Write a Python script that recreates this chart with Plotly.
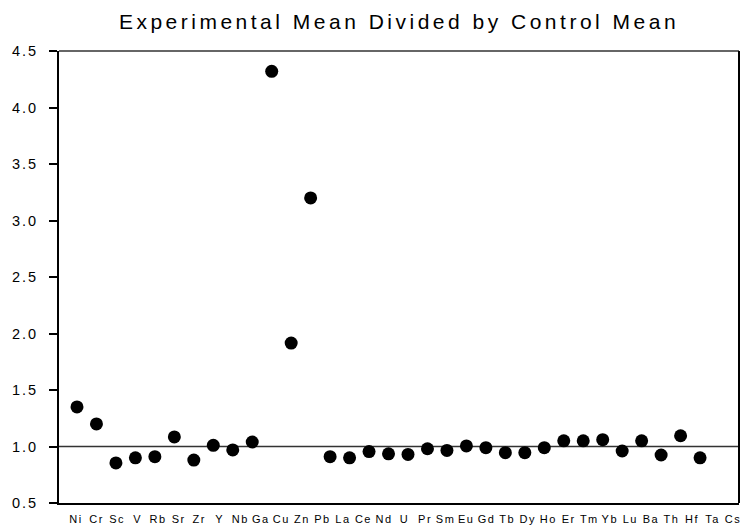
import plotly.graph_objects as go

elements = ["Ni", "Cr", "Sc", "V", "Rb", "Sr", "Zr", "Y", "Nb", "Ga", "Cu", "Zn", "Pb",
            "La", "Ce", "Nd", "U", "Pr", "Sm", "Eu", "Gd", "Tb", "Dy", "Ho", "Er", "Tm",
            "Yb", "Lu", "Ba", "Th", "Hf", "Ta", "Cs"]
ratio = [1.35, 1.20, 0.855, 0.90, 0.91, 1.085, 0.88, 1.01, 0.97, 1.04, 4.32, 1.915, 3.20,
         0.91, 0.90, 0.955, 0.935, 0.93, 0.98, 0.965, 1.005, 0.99, 0.945, 0.945, 0.99, 1.05,
         1.05, 1.06, 0.96, 1.05, 0.925, 1.095, 0.90]
y_ticks = [0.5, 1.0, 1.5, 2.0, 2.5, 3.0, 3.5, 4.0, 4.5]
reference_level = 1.0

idx = list(range(len(elements)))
FONT = "Liberation Sans, Arial, sans-serif"

fig = go.Figure()
fig.add_trace(go.Scatter(
    x=idx, y=ratio, mode="markers",
    marker=dict(color="black", size=13, line=dict(width=0)),
    text=elements, hovertemplate="%{text}: %{y}<extra></extra>",
    showlegend=False,
))
# helper trace carrying the element label axis
fig.add_trace(go.Scatter(
    x=idx, y=[None] * len(idx), xaxis="x2", mode="markers",
    showlegend=False, hoverinfo="skip",
))

fig.update_layout(
    width=742, height=529, autosize=False,
    margin=dict(l=59, r=3, t=51, b=26),
    paper_bgcolor="white", plot_bgcolor="white",
    font=dict(family=FONT, color="black"),
    title=dict(text="Experimental Mean Divided by Control Mean",
               x=0.5, xref="paper", y=0.959, yref="container",
               xanchor="center", yanchor="middle",
               font=dict(family=FONT, size=21, color="black")),
    xaxis=dict(range=[-0.924, 34.0], showticklabels=False, ticks="",
               showgrid=False, zeroline=False,
               showline=True, linecolor="black", linewidth=2),
    xaxis2=dict(overlaying="x", anchor="y", side="bottom",
                range=[-0.828, 32.29], tickmode="array",
                tickvals=idx, ticktext=elements, ticks="",
                ticklabelstandoff=8,
                tickfont=dict(family=FONT, size=11, color="black"),
                showgrid=False, zeroline=False, showline=False),
    yaxis=dict(range=[0.5, 4.5], tickmode="array", tickvals=y_ticks,
               tickformat=".1f", ticks="outside", ticklen=8, tickwidth=1.5,
               tickcolor="black", ticklabelstandoff=8,
               tickfont=dict(family=FONT, size=14.5, color="black"),
               showgrid=False, zeroline=False,
               showline=True, linecolor="black", linewidth=2),
    shapes=[
        dict(type="line", xref="paper", yref="y", x0=0, x1=1,
             y0=reference_level, y1=reference_level,
             line=dict(color="#333333", width=1.5), layer="below"),
        dict(type="line", xref="paper", yref="paper", x0=0, x1=1, y0=1, y1=1,
             line=dict(color="#666666", width=2)),
        dict(type="line", xref="paper", yref="paper", x0=1, x1=1, y0=0, y1=1,
             line=dict(color="black", width=2)),
    ],
)

post = """
document.body.style.margin = '0';
var gd = document.getElementById('{plot_id}');
gd.querySelectorAll('.gtitle').forEach(function(e){ e.style.letterSpacing = '3.5px'; });
gd.querySelectorAll('.ytick text, text.ytick').forEach(function(e){ e.style.letterSpacing = '2px'; });
gd.querySelectorAll('.x2tick text, text.x2tick').forEach(function(e){ e.style.letterSpacing = '1.5px'; });
"""

fig.write_html("out.html", post_script=post, config={"displayModeBar": False})
